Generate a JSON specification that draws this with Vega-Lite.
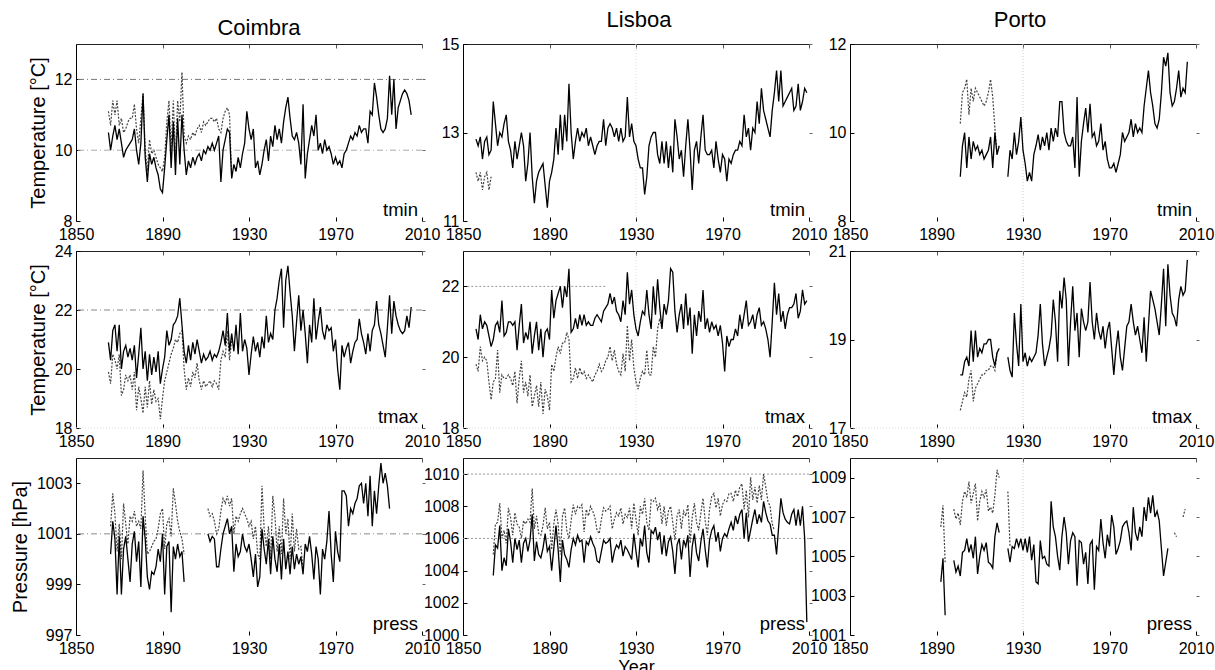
{
"$schema":"https://vega.github.io/schema/vega-lite/v6.json",
"autosize":{"type":"pad"},
"padding":{"left":10,"top":9,"right":5,"bottom":5},
"background":"white",
"datasets":{
"coimbra":[
{"yr":1865,"tmin":10.5,"tminR":11.1,"tmax":20.9,"tmaxR":19.9},
{"yr":1866,"tmin":10.0,"tminR":10.7,"tmax":20.3,"tmaxR":19.5,"pres":1000.2,"presR":1001.3},
{"yr":1867,"tmin":10.4,"tminR":11.4,"tmax":21.3,"tmaxR":20.5,"pres":1001.5,"presR":1002.6},
{"yr":1868,"tmin":10.7,"tminR":11.0,"tmax":21.5,"tmaxR":20.3,"pres":1000.8,"presR":1001.8},
{"yr":1869,"tmin":10.3,"tminR":11.4,"tmax":20.6,"tmaxR":20.0,"pres":998.6,"presR":1000.3},
{"yr":1870,"tmin":10.6,"tminR":10.7,"tmax":21.5,"tmaxR":20.5,"pres":1000.9,"presR":1001.4},
{"yr":1871,"tmin":10.2,"tminR":10.9,"tmax":20.0,"tmaxR":19.1,"pres":998.6,"presR":1000.0},
{"yr":1872,"tmin":9.8,"tminR":10.5,"tmax":20.6,"tmaxR":19.3,"pres":1000.4,"presR":1002.2},
{"yr":1873,"tmin":10.0,"tminR":10.6,"tmax":20.8,"tmaxR":19.8,"pres":1000.9,"presR":1001.4},
{"yr":1874,"tmin":10.1,"tminR":10.8,"tmax":20.4,"tmaxR":19.6,"pres":1000.0,"presR":1000.6},
{"yr":1875,"tmin":10.2,"tminR":10.9,"tmax":20.7,"tmaxR":19.8,"pres":999.1,"presR":1001.7},
{"yr":1876,"tmin":10.3,"tminR":10.9,"tmax":20.3,"tmaxR":19.3,"pres":1000.6,"presR":1001.5},
{"yr":1877,"tmin":10.6,"tminR":11.3,"tmax":20.8,"tmaxR":19.9,"pres":1001.1,"presR":1001.9},
{"yr":1878,"tmin":10.0,"tminR":10.6,"tmax":19.7,"tmaxR":18.6,"pres":999.9,"presR":1001.3},
{"yr":1879,"tmin":9.6,"tminR":10.2,"tmax":20.5,"tmaxR":19.4,"pres":1000.7,"presR":1001.5},
{"yr":1880,"tmin":10.2,"tminR":10.9,"tmax":21.4,"tmaxR":19.0,"pres":998.9,"presR":1001.2},
{"yr":1881,"tmin":11.6,"tminR":11.6,"tmax":20.0,"tmaxR":18.5,"pres":1001.7,"presR":1003.5},
{"yr":1882,"tmin":9.8,"tminR":10.0,"tmax":20.6,"tmaxR":19.4,"pres":1000.8,"presR":1001.7},
{"yr":1883,"tmin":9.1,"tminR":9.4,"tmax":19.6,"tmaxR":18.7,"pres":999.3,"presR":1000.2},
{"yr":1884,"tmin":9.9,"tminR":10.3,"tmax":20.5,"tmaxR":19.6,"pres":998.8,"presR":1000.3},
{"yr":1885,"tmin":9.6,"tminR":9.9,"tmax":19.8,"tmaxR":18.8,"pres":999.5,"presR":1000.5},
{"yr":1886,"tmin":9.8,"tminR":10.0,"tmax":20.4,"tmaxR":19.3,"pres":999.4,"presR":1000.7},
{"yr":1887,"tmin":9.5,"tminR":9.8,"tmax":19.9,"tmaxR":18.9,"pres":999.7,"presR":1000.8},
{"yr":1888,"tmin":9.3,"tminR":9.6,"tmax":20.6,"tmaxR":19.0,"pres":1000.4,"presR":1001.2},
{"yr":1889,"tmin":8.9,"tminR":9.5,"tmax":19.5,"tmaxR":18.3,"pres":999.9,"presR":1001.8},
{"yr":1890,"tmin":8.8,"tminR":9.4,"tmax":20.0,"tmaxR":19.0,"pres":1001.0,"presR":1002.0},
{"yr":1891,"tmin":9.5,"tminR":9.8,"tmax":20.4,"tmaxR":19.6,"pres":998.6,"presR":1000.4},
{"yr":1892,"tmin":10.3,"tminR":10.8,"tmax":21.3,"tmaxR":19.9,"pres":1000.5,"presR":1001.4},
{"yr":1893,"tmin":11.0,"tminR":11.4,"tmax":20.8,"tmaxR":20.2,"pres":1000.7,"presR":1001.6},
{"yr":1894,"tmin":9.5,"tminR":10.0,"tmax":21.0,"tmaxR":20.5,"pres":997.9,"presR":1000.9},
{"yr":1895,"tmin":10.8,"tminR":11.4,"tmax":21.5,"tmaxR":20.7,"pres":1000.5,"presR":1002.8},
{"yr":1896,"tmin":9.3,"tminR":9.8,"tmax":21.6,"tmaxR":21.0,"pres":1000.0,"presR":1002.2},
{"yr":1897,"tmin":10.9,"tminR":11.4,"tmax":21.8,"tmaxR":20.9,"pres":1000.6,"presR":1001.5},
{"yr":1898,"tmin":9.6,"tminR":10.8,"tmax":22.4,"tmaxR":21.2,"pres":1000.1,"presR":1001.1},
{"yr":1899,"tmin":11.0,"tminR":12.2,"tmax":21.5,"tmaxR":21.3,"pres":1000.3,"presR":1000.8},
{"yr":1900,"tmin":10.0,"tminR":10.4,"tmax":20.6,"tmaxR":20.0,"pres":999.1,"presR":1000.2},
{"yr":1901,"tmin":9.3,"tminR":10.2,"tmax":20.2,"tmaxR":19.3},
{"yr":1902,"tmin":9.7,"tminR":10.4,"tmax":20.8,"tmaxR":19.7},
{"yr":1903,"tmin":9.5,"tminR":10.3,"tmax":20.3,"tmaxR":19.4},
{"yr":1904,"tmin":9.8,"tminR":10.5,"tmax":20.9,"tmaxR":19.9},
{"yr":1905,"tmin":9.6,"tminR":10.4,"tmax":20.5,"tmaxR":19.7},
{"yr":1906,"tmin":9.8,"tminR":10.6,"tmax":21.0,"tmaxR":20.2},
{"yr":1907,"tmin":9.9,"tminR":10.7,"tmax":20.6,"tmaxR":19.6},
{"yr":1908,"tmin":9.7,"tminR":10.5,"tmax":20.2,"tmaxR":19.3},
{"yr":1909,"tmin":10.0,"tminR":10.8,"tmax":20.5,"tmaxR":19.6},
{"yr":1910,"tmin":9.9,"tminR":10.7,"tmax":20.3,"tmaxR":19.4},
{"yr":1911,"tmin":10.1,"tminR":10.8,"tmax":20.4,"tmaxR":19.5,"pres":1001.0,"presR":1002.0},
{"yr":1912,"tmin":10.0,"tminR":10.9,"tmax":20.6,"tmaxR":19.6,"pres":1000.7,"presR":1001.7},
{"yr":1913,"tmin":10.2,"tminR":10.9,"tmax":20.3,"tmaxR":19.4,"pres":1000.9,"presR":1001.8},
{"yr":1914,"tmin":10.0,"tminR":10.8,"tmax":20.5,"tmaxR":19.6,"pres":1000.8,"presR":1001.5},
{"yr":1915,"tmin":10.2,"tminR":10.9,"tmax":20.4,"tmaxR":19.5,"pres":999.7,"presR":1001.0},
{"yr":1916,"tmin":10.4,"tminR":10.6,"tmax":20.6,"tmaxR":19.3,"pres":999.7,"presR":1001.2},
{"yr":1917,"tmin":9.1,"tminR":10.5,"tmax":20.9,"tmaxR":20.3,"pres":1000.4,"presR":1001.9},
{"yr":1918,"tmin":10.0,"tminR":10.9,"tmax":21.3,"tmaxR":20.6,"pres":1001.0,"presR":1002.4},
{"yr":1919,"tmin":10.3,"tminR":11.1,"tmax":20.8,"tmaxR":20.4,"pres":1001.3,"presR":1002.2},
{"yr":1920,"tmin":10.6,"tminR":11.2,"tmax":21.9,"tmaxR":21.3,"pres":1001.6,"presR":1002.5},
{"yr":1921,"tmin":10.5,"tminR":11.0,"tmax":20.6,"tmaxR":20.3,"pres":1001.0,"presR":1002.1},
{"yr":1922,"tmin":9.2,"tminR":9.2,"tmax":21.2,"tmaxR":21.0,"pres":1001.3,"presR":1002.4},
{"yr":1923,"tmin":9.6,"tmax":20.6,"pres":999.5,"presR":1001.0},
{"yr":1924,"tmin":9.4,"tmax":21.5,"pres":1000.6,"presR":1001.7},
{"yr":1925,"tmin":9.8,"tmax":20.5,"pres":1000.1,"presR":1001.5},
{"yr":1926,"tmin":9.5,"tmax":21.9,"pres":1000.3,"presR":1001.8},
{"yr":1927,"tmin":9.9,"tmax":20.6,"pres":1001.0,"presR":1002.0},
{"yr":1928,"tmin":10.2,"tmax":21.0,"pres":1000.5,"presR":1001.8},
{"yr":1929,"tmin":11.1,"tmax":20.7,"pres":1000.3,"presR":1001.6},
{"yr":1930,"tmin":10.6,"tmax":19.8,"pres":1000.6,"presR":1001.3},
{"yr":1931,"tmin":10.3,"tmax":20.5,"pres":1000.0,"presR":1001.5},
{"yr":1932,"tmin":10.6,"tmax":21.1,"pres":999.3,"presR":1000.8},
{"yr":1933,"tmin":9.5,"tmax":20.6,"pres":1000.2,"presR":1001.3},
{"yr":1934,"tmin":9.7,"tmax":20.9,"pres":998.9,"presR":1000.2},
{"yr":1935,"tmin":9.3,"tmax":20.4,"pres":999.3,"presR":1000.0},
{"yr":1936,"tmin":9.6,"tmax":21.1,"pres":1001.2,"presR":1002.9},
{"yr":1937,"tmin":10.0,"tmax":20.7,"pres":1000.4,"presR":1001.2},
{"yr":1938,"tmin":10.3,"tmax":21.8,"pres":999.8,"presR":1000.5},
{"yr":1939,"tmin":9.7,"tmax":20.9,"pres":1000.8,"presR":1001.3},
{"yr":1940,"tmin":10.4,"tmax":21.2,"pres":999.4,"presR":1000.0},
{"yr":1941,"tmin":10.1,"tmax":21.0,"pres":1000.9,"presR":1002.5},
{"yr":1942,"tmin":10.7,"tmax":22.0,"pres":1000.0,"presR":1001.7},
{"yr":1943,"tmin":10.3,"tmax":22.4,"pres":999.5,"presR":1000.3},
{"yr":1944,"tmin":10.6,"tmax":23.0,"pres":1000.6,"presR":1001.3},
{"yr":1945,"tmin":10.2,"tmax":23.4,"pres":999.2,"presR":1000.2},
{"yr":1946,"tmin":10.8,"tmax":21.4,"pres":1000.8,"presR":1002.4},
{"yr":1947,"tmin":11.2,"tmax":23.0,"pres":999.6,"presR":1001.0},
{"yr":1948,"tmin":11.5,"tmax":23.5,"pres":1000.3,"presR":1001.6},
{"yr":1949,"tmin":10.9,"tmax":22.6,"pres":999.4,"presR":1000.0},
{"yr":1950,"tmin":10.4,"tmax":21.8,"pres":1000.5,"presR":1001.8},
{"yr":1951,"tmin":10.3,"tmax":20.6,"pres":999.6,"presR":1000.3},
{"yr":1952,"tmin":10.5,"tmax":21.6,"pres":1000.2,"presR":1001.2},
{"yr":1953,"tmin":10.2,"tmax":22.5,"pres":999.8,"presR":1000.4},
{"yr":1954,"tmin":9.6,"tmax":21.3,"pres":1000.1,"presR":1000.5},
{"yr":1955,"tmin":11.3,"tmax":22.0,"pres":999.4,"presR":999.6},
{"yr":1956,"tmin":9.2,"tmax":21.2,"pres":1000.6},
{"yr":1957,"tmin":9.9,"tmax":20.2,"pres":1000.3},
{"yr":1958,"tmin":10.3,"tmax":21.5,"pres":1000.9},
{"yr":1959,"tmin":10.7,"tmax":20.9,"pres":1000.2},
{"yr":1960,"tmin":10.4,"tmax":22.4,"pres":999.2},
{"yr":1961,"tmin":11.0,"tmax":21.0,"pres":1000.5},
{"yr":1962,"tmin":10.0,"tmax":21.6,"pres":1000.0},
{"yr":1963,"tmin":10.2,"tmax":22.1,"pres":998.6},
{"yr":1964,"tmin":9.9,"tmax":21.3,"pres":1000.4},
{"yr":1965,"tmin":10.3,"tmax":21.0,"pres":1000.0},
{"yr":1966,"tmin":10.0,"tmax":21.5,"pres":1000.7},
{"yr":1967,"tmin":10.1,"tmax":21.3,"pres":1001.9},
{"yr":1968,"tmin":9.9,"tmax":21.4,"pres":1000.2},
{"yr":1969,"tmin":9.6,"tmax":20.6,"pres":999.1},
{"yr":1970,"tmin":9.8,"tmax":21.0,"pres":1001.1},
{"yr":1971,"tmin":9.6,"tmax":20.0,"pres":1000.3},
{"yr":1972,"tmin":9.7,"tmax":19.3,"pres":999.9},
{"yr":1973,"tmin":9.5,"tmax":20.8,"pres":1002.7},
{"yr":1974,"tmin":9.9,"tmax":20.4,"pres":1002.7},
{"yr":1975,"tmin":10.0,"tmax":20.7,"pres":1002.5},
{"yr":1976,"tmin":10.2,"tmax":20.9,"pres":1001.3},
{"yr":1977,"tmin":10.4,"tmax":20.2,"pres":1002.0},
{"yr":1978,"tmin":10.3,"tmax":20.6,"pres":1001.8},
{"yr":1979,"tmin":10.5,"tmax":20.9,"pres":1002.2},
{"yr":1980,"tmin":10.4,"tmax":21.0,"pres":1002.4},
{"yr":1981,"tmin":10.7,"tmax":21.7,"pres":1002.9},
{"yr":1982,"tmin":10.5,"tmax":21.2,"pres":1003.0},
{"yr":1983,"tmin":10.6,"tmax":20.9,"pres":1002.2},
{"yr":1984,"tmin":10.6,"tmax":20.5,"pres":1003.0},
{"yr":1985,"tmin":10.2,"tmax":21.2,"pres":1001.7},
{"yr":1986,"tmin":11.1,"tmax":20.6,"pres":1003.3},
{"yr":1987,"tmin":11.0,"tmax":21.3,"pres":1001.3},
{"yr":1988,"tmin":11.9,"tmax":21.5,"pres":1002.7},
{"yr":1989,"tmin":11.5,"tmax":22.3,"pres":1001.8},
{"yr":1990,"tmin":11.0,"tmax":21.5,"pres":1002.9},
{"yr":1991,"tmin":10.6,"tmax":21.2,"pres":1003.8},
{"yr":1992,"tmin":10.5,"tmax":20.8,"pres":1003.0},
{"yr":1993,"tmin":10.6,"tmax":20.4,"pres":1003.4},
{"yr":1994,"tmin":10.9,"tmax":21.4,"pres":1002.9},
{"yr":1995,"tmin":12.1,"tmax":22.5,"pres":1002.0},
{"yr":1996,"tmin":11.0,"tmax":21.2},
{"yr":1997,"tmin":12.0,"tmax":22.3},
{"yr":1998,"tmin":10.6,"tmax":21.8},
{"yr":1999,"tmin":11.2,"tmax":21.5},
{"yr":2000,"tmin":11.4,"tmax":21.3},
{"yr":2001,"tmin":11.6,"tmax":21.2},
{"yr":2002,"tmin":11.7,"tmax":21.3},
{"yr":2003,"tmin":11.6,"tmax":21.8},
{"yr":2004,"tmin":11.4,"tmax":21.4},
{"yr":2005,"tmin":11.0,"tmax":22.1}
],
"lisboa":[
{"yr":1856,"tmin":12.85,"tminR":12.1,"tmax":20.8,"tmaxR":19.8},
{"yr":1857,"tmin":12.7,"tminR":11.9,"tmax":20.5,"tmaxR":19.6},
{"yr":1858,"tmin":12.9,"tminR":12.1,"tmax":21.2,"tmaxR":20.3},
{"yr":1859,"tmin":12.4,"tminR":11.7,"tmax":20.8,"tmaxR":19.9},
{"yr":1860,"tmin":12.8,"tminR":12.0,"tmax":21.0,"tmaxR":20.0},
{"yr":1861,"tmin":12.9,"tminR":12.1,"tmax":20.9,"tmaxR":19.9},
{"yr":1862,"tmin":12.5,"tminR":11.7,"tmax":20.6,"tmaxR":19.3},
{"yr":1863,"tmin":12.6,"tminR":12.0,"tmax":20.3,"tmaxR":18.8},
{"yr":1864,"tmin":13.7,"tmax":20.5,"tmaxR":19.3,"pres":1003.7,"presR":1005.0},
{"yr":1865,"tmin":13.2,"tmax":20.9,"tmaxR":19.4,"pres":1005.6,"presR":1006.9},
{"yr":1866,"tmin":12.7,"tmax":21.0,"tmaxR":20.2,"pres":1005.4,"presR":1007.0},
{"yr":1867,"tmin":13.0,"tmax":20.7,"tmaxR":19.0,"pres":1006.8,"presR":1008.2},
{"yr":1868,"tmin":12.9,"tmax":21.6,"tmaxR":19.5,"pres":1004.0,"presR":1006.0},
{"yr":1869,"tmin":13.2,"tmax":20.6,"tmaxR":19.4,"pres":1004.8,"presR":1006.5},
{"yr":1870,"tmin":13.4,"tmax":20.7,"tmaxR":19.4,"pres":1004.3,"presR":1005.7},
{"yr":1871,"tmin":12.8,"tmax":21.0,"tmaxR":19.5,"pres":1006.6,"presR":1007.9},
{"yr":1872,"tmin":12.6,"tmax":21.0,"tmaxR":19.4,"pres":1005.8,"presR":1007.3},
{"yr":1873,"tmin":12.2,"tmax":20.9,"tmaxR":19.2,"pres":1004.5,"presR":1006.2},
{"yr":1874,"tmin":12.8,"tmax":21.0,"tmaxR":19.6,"pres":1006.0,"presR":1007.6},
{"yr":1875,"tmin":12.4,"tmax":20.2,"tmaxR":18.7,"pres":1005.3,"presR":1006.9},
{"yr":1876,"tmin":12.7,"tmax":20.9,"tmaxR":19.4,"pres":1005.9,"presR":1006.7},
{"yr":1877,"tmin":13.0,"tmax":21.5,"tmaxR":19.9,"pres":1004.5,"presR":1006.0},
{"yr":1878,"tmin":12.7,"tmax":20.4,"tmaxR":19.0,"pres":1005.7,"presR":1007.1},
{"yr":1879,"tmin":11.9,"tmax":20.7,"tmaxR":19.3,"pres":1006.0,"presR":1006.9},
{"yr":1880,"tmin":12.3,"tmax":20.5,"tmaxR":18.9,"pres":1005.2,"presR":1007.2},
{"yr":1881,"tmin":13.0,"tmax":21.0,"tmaxR":19.5,"pres":1005.9,"presR":1007.0},
{"yr":1882,"tmin":12.0,"tmax":20.1,"tmaxR":18.6,"pres":1007.5,"presR":1009.1},
{"yr":1883,"tmin":11.4,"tmax":20.6,"tmaxR":18.9,"pres":1004.6,"presR":1006.6},
{"yr":1884,"tmin":11.9,"tmax":21.0,"tmaxR":19.2,"pres":1005.8,"presR":1007.4},
{"yr":1885,"tmin":12.1,"tmax":20.2,"tmaxR":18.6,"pres":1005.0,"presR":1006.3},
{"yr":1886,"tmin":12.2,"tmax":20.8,"tmaxR":19.3,"pres":1004.8,"presR":1006.2},
{"yr":1887,"tmin":12.3,"tmax":20.0,"tmaxR":18.4,"pres":1005.4,"presR":1006.8},
{"yr":1888,"tmin":11.8,"tmax":20.7,"tmaxR":19.1,"pres":1006.3,"presR":1007.9},
{"yr":1889,"tmin":11.3,"tmax":20.8,"tmaxR":18.9,"pres":1005.2,"presR":1006.6},
{"yr":1890,"tmin":11.9,"tmax":20.5,"tmaxR":18.5,"pres":1005.5,"presR":1007.0},
{"yr":1891,"tmin":12.1,"tmax":21.9,"tmaxR":19.8,"pres":1004.0,"presR":1005.3},
{"yr":1892,"tmin":12.4,"tmax":21.1,"tmaxR":19.6,"pres":1005.4,"presR":1006.9},
{"yr":1893,"tmin":13.1,"tmax":21.6,"tmaxR":20.0,"pres":1006.8,"presR":1007.8},
{"yr":1894,"tmin":12.5,"tmax":21.8,"tmaxR":20.3,"pres":1005.3,"presR":1006.9},
{"yr":1895,"tmin":13.4,"tmax":22.0,"tmaxR":20.1,"pres":1003.3,"presR":1005.0},
{"yr":1896,"tmin":12.6,"tmax":21.4,"tmaxR":20.4,"pres":1005.9,"presR":1007.4},
{"yr":1897,"tmin":13.4,"tmax":22.0,"tmaxR":20.4,"pres":1005.0,"presR":1007.9},
{"yr":1898,"tmin":12.8,"tmax":21.7,"tmaxR":20.7,"pres":1004.7,"presR":1006.5},
{"yr":1899,"tmin":14.1,"tmax":22.5,"tmaxR":20.5,"pres":1004.2,"presR":1006.0},
{"yr":1900,"tmin":13.0,"tmax":20.7,"tmaxR":19.3,"pres":1005.3,"presR":1007.1},
{"yr":1901,"tmin":12.4,"tmax":20.8,"tmaxR":19.4,"pres":1006.0,"presR":1008.1},
{"yr":1902,"tmin":12.8,"tmax":21.1,"tmaxR":19.7,"pres":1005.6,"presR":1007.5},
{"yr":1903,"tmin":13.1,"tmax":20.8,"tmaxR":19.4,"pres":1006.2,"presR":1008.0},
{"yr":1904,"tmin":12.8,"tmax":21.2,"tmaxR":19.7,"pres":1005.8,"presR":1007.9},
{"yr":1905,"tmin":13.0,"tmax":20.9,"tmaxR":19.5,"pres":1005.9,"presR":1008.1},
{"yr":1906,"tmin":12.9,"tmax":21.2,"tmaxR":19.6,"pres":1004.5,"presR":1006.4},
{"yr":1907,"tmin":13.1,"tmax":20.9,"tmaxR":19.4,"pres":1005.8,"presR":1007.8},
{"yr":1908,"tmin":12.7,"tmax":21.0,"tmaxR":19.5,"pres":1005.6,"presR":1007.4},
{"yr":1909,"tmin":12.9,"tmax":20.9,"tmaxR":19.4,"pres":1006.1,"presR":1008.0},
{"yr":1910,"tmin":12.7,"tmax":20.9,"tmaxR":19.3,"pres":1005.7,"presR":1007.7},
{"yr":1911,"tmin":12.5,"tmax":21.1,"tmaxR":19.5,"pres":1005.4,"presR":1007.3},
{"yr":1912,"tmin":12.7,"tmax":21.2,"tmaxR":19.6,"pres":1004.6,"presR":1006.5},
{"yr":1913,"tmin":12.8,"tmax":21.1,"tmaxR":19.8,"pres":1004.5,"presR":1006.3},
{"yr":1914,"tmin":12.8,"tmax":21.0,"tmaxR":19.6,"pres":1005.2,"presR":1007.2},
{"yr":1915,"tmin":13.3,"tmax":21.3,"tmaxR":19.7,"pres":1005.9,"presR":1007.9},
{"yr":1916,"tmin":12.7,"tmax":21.4,"tmaxR":19.9,"pres":1005.7,"presR":1007.7},
{"yr":1917,"tmin":13.1,"tmax":21.5,"tmaxR":20.0,"pres":1005.8,"presR":1007.8},
{"yr":1918,"tmin":13.2,"tmax":21.8,"tmaxR":20.3,"pres":1006.0,"presR":1008.0},
{"yr":1919,"tmin":13.1,"tmax":21.5,"tmaxR":19.9,"pres":1004.5,"presR":1006.6},
{"yr":1920,"tmin":12.9,"tmax":21.7,"tmaxR":20.2,"pres":1005.2,"presR":1007.2},
{"yr":1921,"tmin":13.1,"tmax":21.3,"tmaxR":19.8,"pres":1005.6,"presR":1007.6},
{"yr":1922,"tmin":12.8,"tmax":21.2,"tmaxR":19.6,"pres":1005.4,"presR":1007.4},
{"yr":1923,"tmin":13.1,"tmax":21.0,"tmaxR":19.5,"pres":1005.9,"presR":1007.9},
{"yr":1924,"tmin":12.8,"tmax":21.6,"tmaxR":20.1,"pres":1004.9,"presR":1006.9},
{"yr":1925,"tmin":12.9,"tmax":21.2,"tmaxR":19.6,"pres":1005.5,"presR":1007.5},
{"yr":1926,"tmin":13.8,"tmax":22.4,"tmaxR":20.9,"pres":1005.3,"presR":1007.3},
{"yr":1927,"tmin":12.9,"tmax":21.5,"tmaxR":19.9,"pres":1005.0,"presR":1007.9},
{"yr":1928,"tmin":13.2,"tmax":21.9,"tmaxR":20.5,"pres":1004.7,"presR":1006.6},
{"yr":1929,"tmin":12.8,"tmax":21.2,"tmaxR":19.7,"pres":1006.3,"presR":1008.2},
{"yr":1930,"tmin":12.7,"tmax":20.8,"tmaxR":19.3,"pres":1005.2,"presR":1007.2},
{"yr":1931,"tmin":12.4,"tmax":20.6,"tmaxR":19.1,"pres":1004.2,"presR":1006.2},
{"yr":1932,"tmin":12.2,"tmax":21.0,"tmaxR":19.4,"pres":1006.0,"presR":1008.0},
{"yr":1933,"tmin":12.2,"tmax":21.3,"tmaxR":19.6,"pres":1005.5,"presR":1007.5},
{"yr":1934,"tmin":11.6,"tmax":21.2,"tmaxR":19.5,"pres":1006.8,"presR":1008.5},
{"yr":1935,"tmin":12.0,"tmax":21.9,"tmaxR":20.2,"pres":1005.1,"presR":1007.0},
{"yr":1936,"tmin":12.7,"tmax":21.2,"tmaxR":19.5,"pres":1004.5,"presR":1006.5},
{"yr":1937,"tmin":12.9,"tmax":20.8,"tmaxR":19.5,"pres":1006.5,"presR":1008.4},
{"yr":1938,"tmin":13.0,"tmax":22.0,"tmaxR":20.3,"pres":1006.3,"presR":1008.3},
{"yr":1939,"tmin":13.0,"tmax":21.2,"tmaxR":20.0,"pres":1006.7,"presR":1008.5},
{"yr":1940,"tmin":12.5,"tmax":22.2,"tmaxR":20.8,"pres":1005.9,"presR":1007.8},
{"yr":1941,"tmin":12.3,"tmax":21.4,"tmaxR":21.1,"pres":1006.4,"presR":1008.2},
{"yr":1942,"tmin":12.8,"tmax":20.8,"tmaxR":20.8,"pres":1005.0,"presR":1006.9},
{"yr":1943,"tmin":12.3,"tmax":21.5,"pres":1006.2,"presR":1008.0},
{"yr":1944,"tmin":12.8,"tmax":21.2,"pres":1004.9,"presR":1006.8},
{"yr":1945,"tmin":12.2,"tmax":21.6,"pres":1005.8,"presR":1007.7},
{"yr":1946,"tmin":12.7,"tmax":22.5,"pres":1006.1,"presR":1008.0},
{"yr":1947,"tmin":12.1,"tmax":22.4,"pres":1005.2,"presR":1007.0},
{"yr":1948,"tmin":13.3,"tmax":21.3,"pres":1003.8,"presR":1005.9},
{"yr":1949,"tmin":12.9,"tmax":20.7,"pres":1005.6,"presR":1007.4},
{"yr":1950,"tmin":12.4,"tmax":21.2,"pres":1006.0,"presR":1007.8},
{"yr":1951,"tmin":12.6,"tmax":21.5,"pres":1004.7,"presR":1006.6},
{"yr":1952,"tmin":12.0,"tmax":20.8,"pres":1005.9,"presR":1007.7},
{"yr":1953,"tmin":12.7,"tmax":21.8,"pres":1005.5,"presR":1007.4},
{"yr":1954,"tmin":13.3,"tmax":20.9,"pres":1006.2,"presR":1008.1},
{"yr":1955,"tmin":12.6,"tmax":21.4,"pres":1003.6,"presR":1005.7},
{"yr":1956,"tmin":11.7,"tmax":20.1,"pres":1005.5,"presR":1007.3},
{"yr":1957,"tmin":12.6,"tmax":21.2,"pres":1006.3,"presR":1008.2},
{"yr":1958,"tmin":12.8,"tmax":20.6,"pres":1005.1,"presR":1007.0},
{"yr":1959,"tmin":12.3,"tmax":21.3,"pres":1004.6,"presR":1006.5},
{"yr":1960,"tmin":12.9,"tmax":21.0,"pres":1005.8,"presR":1007.6},
{"yr":1961,"tmin":13.4,"tmax":21.9,"pres":1006.6,"presR":1008.5},
{"yr":1962,"tmin":12.6,"tmax":20.8,"pres":1005.3,"presR":1007.1},
{"yr":1963,"tmin":12.5,"tmax":21.1,"pres":1004.2,"presR":1006.2},
{"yr":1964,"tmin":12.5,"tmax":20.7,"pres":1005.9,"presR":1007.8},
{"yr":1965,"tmin":12.6,"tmax":21.0,"pres":1006.5,"presR":1008.6},
{"yr":1966,"tmin":12.2,"tmax":20.8,"pres":1006.8,"presR":1008.8},
{"yr":1967,"tmin":12.8,"tmax":20.9,"pres":1005.8,"presR":1007.9},
{"yr":1968,"tmin":12.4,"tmax":20.6,"pres":1006.4,"presR":1008.5},
{"yr":1969,"tmin":12.1,"tmax":20.9,"pres":1005.2,"presR":1007.4},
{"yr":1970,"tmin":12.5,"tmax":20.4,"pres":1006.0,"presR":1008.1},
{"yr":1971,"tmin":12.4,"tmax":19.6,"pres":1006.3,"presR":1008.4},
{"yr":1972,"tmin":11.9,"tmax":20.6,"pres":1006.1,"presR":1008.3},
{"yr":1973,"tmin":12.4,"tmax":20.3,"pres":1006.6,"presR":1008.8},
{"yr":1974,"tmin":12.3,"tmax":20.5,"pres":1007.0,"presR":1008.8},
{"yr":1975,"tmin":12.5,"tmax":20.5,"pres":1006.5,"presR":1008.3},
{"yr":1976,"tmin":12.6,"tmax":20.8,"pres":1007.4,"presR":1009.0},
{"yr":1977,"tmin":12.6,"tmax":20.6,"pres":1006.9,"presR":1008.6},
{"yr":1978,"tmin":12.8,"tmax":21.2,"pres":1007.5,"presR":1009.2},
{"yr":1979,"tmin":12.7,"tmax":20.8,"pres":1007.8,"presR":1009.4},
{"yr":1980,"tmin":13.4,"tmax":21.2,"pres":1006.0,"presR":1007.8},
{"yr":1981,"tmin":12.9,"tmax":21.6,"pres":1007.6,"presR":1009.0},
{"yr":1982,"tmin":13.1,"tmax":20.9,"pres":1005.8,"presR":1007.3},
{"yr":1983,"tmin":12.6,"tmax":21.0,"pres":1006.5,"presR":1009.8},
{"yr":1984,"tmin":13.1,"tmax":21.2,"pres":1007.2,"presR":1008.4},
{"yr":1985,"tmin":13.0,"tmax":20.8,"pres":1007.8,"presR":1009.2},
{"yr":1986,"tmin":13.7,"tmax":21.2,"pres":1006.9,"presR":1008.2},
{"yr":1987,"tmin":13.2,"tmax":21.4,"pres":1007.5,"presR":1009.3},
{"yr":1988,"tmin":14.0,"tmax":20.9,"pres":1007.0,"presR":1008.4},
{"yr":1989,"tmin":13.5,"tmax":21.0,"pres":1008.3,"presR":1010.0},
{"yr":1990,"tmin":13.3,"tmax":20.8,"pres":1007.6,"presR":1009.2},
{"yr":1991,"tmin":13.1,"tmax":20.5,"pres":1007.1,"presR":1008.3},
{"yr":1992,"tmin":12.9,"tmax":20.0,"pres":1006.9,"presR":1008.0},
{"yr":1993,"tmin":13.5,"tmax":21.0,"pres":1006.2,"presR":1006.9},
{"yr":1994,"tmin":13.9,"tmax":22.1,"pres":1006.2,"presR":1006.5},
{"yr":1995,"tmin":14.4,"tmax":21.2,"pres":1005.0},
{"yr":1996,"tmin":13.7,"tmax":21.8,"pres":1006.8},
{"yr":1997,"tmin":14.4,"tmax":21.0,"pres":1008.5},
{"yr":1998,"tmin":13.6,"tmax":21.3,"pres":1007.6},
{"yr":1999,"tmin":13.7,"tmax":20.8,"pres":1007.2},
{"yr":2000,"tmin":13.8,"tmax":21.2,"pres":1007.0},
{"yr":2001,"tmin":13.9,"tmax":21.4,"pres":1006.9},
{"yr":2002,"tmin":14.0,"tmax":21.4,"pres":1007.5},
{"yr":2003,"tmin":13.5,"tmax":21.5,"pres":1007.8},
{"yr":2004,"tmin":13.6,"tmax":21.8,"pres":1006.8},
{"yr":2005,"tmin":14.1,"tmax":21.1,"pres":1007.8},
{"yr":2006,"tmin":13.5,"tmax":21.3,"pres":1006.8},
{"yr":2007,"tmin":13.7,"tmax":21.9,"pres":1008.0},
{"yr":2008,"tmin":14.0,"tmax":21.5,"pres":1006.0},
{"yr":2009,"tmin":13.9,"tmax":21.6,"pres":1000.8}
],
"porto":[
{"yr":1892,"pres":1003.7,"presR":1006.5},
{"yr":1893,"pres":1004.9,"presR":1007.6},
{"yr":1894,"pres":1002.0,"presR":1004.7},
{"yr":1895},
{"yr":1896},
{"yr":1897},
{"yr":1898,"pres":1004.8,"presR":1007.4},
{"yr":1899,"pres":1004.2,"presR":1006.9},
{"yr":1900,"pres":1004.5,"presR":1007.2},
{"yr":1901,"tmin":9.0,"tminR":10.2,"tmax":18.2,"tmaxR":17.4,"pres":1004.0,"presR":1006.6},
{"yr":1902,"tmin":9.7,"tminR":10.9,"tmax":18.2,"tmaxR":17.6,"pres":1005.2,"presR":1007.8},
{"yr":1903,"tmin":10.0,"tminR":11.0,"tmax":18.5,"tmaxR":17.8,"pres":1005.3,"presR":1008.3},
{"yr":1904,"tmin":9.2,"tminR":11.2,"tmax":18.6,"tmaxR":17.7,"pres":1005.9,"presR":1008.0},
{"yr":1905,"tmin":9.9,"tminR":10.4,"tmax":18.4,"tmaxR":18.1,"pres":1005.2,"presR":1008.8},
{"yr":1906,"tmin":9.4,"tminR":11.0,"tmax":19.2,"tmaxR":18.3,"pres":1005.6,"presR":1007.7},
{"yr":1907,"tmin":9.8,"tminR":10.7,"tmax":18.5,"tmaxR":17.6,"pres":1004.9,"presR":1008.2},
{"yr":1908,"tmin":9.6,"tminR":11.0,"tmax":19.2,"tmaxR":17.9,"pres":1006.0,"presR":1008.7},
{"yr":1909,"tmin":9.7,"tminR":10.9,"tmax":18.6,"tmaxR":18.0,"pres":1004.1,"presR":1006.8},
{"yr":1910,"tmin":9.5,"tminR":10.8,"tmax":18.8,"tmaxR":18.1,"pres":1005.0,"presR":1007.8},
{"yr":1911,"tmin":9.6,"tminR":10.7,"tmax":18.7,"tmaxR":18.2,"pres":1005.6,"presR":1008.3},
{"yr":1912,"tmin":9.4,"tminR":10.6,"tmax":18.9,"tmaxR":18.2,"pres":1005.3,"presR":1008.0},
{"yr":1913,"tmin":9.5,"tminR":10.7,"tmax":18.9,"tmaxR":18.3,"pres":1005.7,"presR":1008.4},
{"yr":1914,"tmin":9.6,"tminR":10.9,"tmax":19.0,"tmaxR":18.3,"pres":1004.7,"presR":1007.3},
{"yr":1915,"tmin":9.9,"tminR":11.2,"tmax":19.0,"tmaxR":18.4,"pres":1004.6,"presR":1007.5},
{"yr":1916,"tmin":9.2,"tminR":10.8,"tmax":18.6,"tmaxR":18.4,"pres":1004.4,"presR":1007.2},
{"yr":1917,"tmin":10.0,"tminR":10.1,"tmax":18.4,"tmaxR":18.3,"pres":1006.0,"presR":1008.1},
{"yr":1918,"tmin":9.5,"tminR":9.5,"tmax":18.7,"tmaxR":18.7,"pres":1006.7,"presR":1009.4},
{"yr":1919,"tmin":9.7,"tmax":18.8,"pres":1006.2,"presR":1009.0},
{"yr":1920},
{"yr":1921},
{"yr":1922},
{"yr":1923,"tmin":9.0,"tmax":18.6,"pres":1005.4,"presR":1008.3},
{"yr":1924,"tmin":9.6,"tmax":18.3,"pres":1004.7,"presR":1005.5},
{"yr":1925,"tmin":9.4,"tmax":18.15,"pres":1005.5},
{"yr":1926,"tmin":10.0,"tmax":19.6,"pres":1005.4},
{"yr":1927,"tmin":9.5,"tmax":18.9,"pres":1005.9},
{"yr":1928,"tmin":9.8,"tmax":18.4,"pres":1005.5},
{"yr":1929,"tmin":10.35,"tmax":19.8,"pres":1005.9},
{"yr":1930,"tmin":9.6,"tmax":18.5,"pres":1005.3},
{"yr":1931,"tmin":9.3,"tmax":18.7,"pres":1005.9},
{"yr":1932,"tmin":8.9,"tmax":18.4,"pres":1005.2},
{"yr":1933,"tmin":9.1,"tmax":18.6,"pres":1006.0},
{"yr":1934,"tmin":8.9,"tmax":18.5,"pres":1004.8},
{"yr":1935,"tmin":9.5,"tmax":18.6,"pres":1005.6},
{"yr":1936,"tmin":9.7,"tmax":18.7,"pres":1003.7},
{"yr":1937,"tmin":9.95,"tmax":19.1,"pres":1003.6},
{"yr":1938,"tmin":9.6,"tmax":19.8,"pres":1005.8},
{"yr":1939,"tmin":9.9,"tmax":18.9,"pres":1004.9},
{"yr":1940,"tmin":9.7,"tmax":18.4,"pres":1005.0},
{"yr":1941,"tmin":10.0,"tmax":18.6,"pres":1004.6},
{"yr":1942,"tmin":9.6,"tmax":18.8,"pres":1004.5},
{"yr":1943,"tmin":10.1,"tmax":19.1,"pres":1007.8},
{"yr":1944,"tmin":9.8,"tmax":19.9,"pres":1006.5},
{"yr":1945,"tmin":10.1,"tmax":19.4,"pres":1006.0},
{"yr":1946,"tmin":9.9,"tmax":18.5,"pres":1005.0},
{"yr":1947,"tmin":10.7,"tmax":20.1,"pres":1004.3},
{"yr":1948,"tmin":10.7,"tmax":19.7,"pres":1006.0},
{"yr":1949,"tmin":10.0,"tmax":20.4,"pres":1007.0},
{"yr":1950,"tmin":9.8,"tmax":19.9,"pres":1006.2},
{"yr":1951,"tmin":9.7,"tmax":18.4,"pres":1004.6},
{"yr":1952,"tmin":9.7,"tmax":19.4,"pres":1005.8},
{"yr":1953,"tmin":9.9,"tmax":20.2,"pres":1006.2},
{"yr":1954,"tmin":9.2,"tmax":19.2,"pres":1006.0},
{"yr":1955,"tmin":10.8,"tmax":19.6,"pres":1003.5},
{"yr":1956,"tmin":9.0,"tmax":18.6,"pres":1005.8},
{"yr":1957,"tmin":9.8,"tmax":19.7,"pres":1005.7},
{"yr":1958,"tmin":10.2,"tmax":19.4,"pres":1004.6},
{"yr":1959,"tmin":10.55,"tmax":19.2,"pres":1005.2},
{"yr":1960,"tmin":10.0,"tmax":19.4,"pres":1003.6},
{"yr":1961,"tmin":10.65,"tmax":20.3,"pres":1005.6},
{"yr":1962,"tmin":9.9,"tmax":19.4,"pres":1005.8},
{"yr":1963,"tmin":10.0,"tmax":19.0,"pres":1003.3},
{"yr":1964,"tmin":9.7,"tmax":19.6,"pres":1005.5},
{"yr":1965,"tmin":9.8,"tmax":19.2,"pres":1005.3},
{"yr":1966,"tmin":10.2,"tmax":19.0,"pres":1006.9},
{"yr":1967,"tmin":9.6,"tmax":19.3,"pres":1005.7},
{"yr":1968,"tmin":9.8,"tmax":18.8,"pres":1004.9},
{"yr":1969,"tmin":9.4,"tmax":19.2,"pres":1006.1},
{"yr":1970,"tmin":9.2,"tmax":19.4,"pres":1005.5},
{"yr":1971,"tmin":9.2,"tmax":18.8,"pres":1007.1},
{"yr":1972,"tmin":9.3,"tmax":18.2,"pres":1006.5},
{"yr":1973,"tmin":9.1,"tmax":18.8,"pres":1005.1},
{"yr":1974,"tmin":9.3,"tmax":19.2,"pres":1005.4},
{"yr":1975,"tmin":9.5,"tmax":18.6,"pres":1005.8},
{"yr":1976,"tmin":10.0,"tmax":18.3,"pres":1006.5},
{"yr":1977,"tmin":9.8,"tmax":18.8,"pres":1006.7},
{"yr":1978,"tmin":9.9,"tmax":19.3,"pres":1006.8},
{"yr":1979,"tmin":10.0,"tmax":19.4,"pres":1006.2},
{"yr":1980,"tmin":10.3,"tmax":19.8,"pres":1005.3},
{"yr":1981,"tmin":9.9,"tmax":19.4,"pres":1007.5},
{"yr":1982,"tmin":10.2,"tmax":19.1,"pres":1006.2},
{"yr":1983,"tmin":10.0,"tmax":19.3,"pres":1005.8},
{"yr":1984,"tmin":10.1,"tmax":19.0,"pres":1006.5},
{"yr":1985,"tmin":10.0,"tmax":18.7,"pres":1006.0},
{"yr":1986,"tmin":10.6,"tmax":19.5,"pres":1007.5},
{"yr":1987,"tmin":11.0,"tmax":18.5,"pres":1006.8},
{"yr":1988,"tmin":11.4,"tmax":19.3,"pres":1008.0},
{"yr":1989,"tmin":10.9,"tmax":20.1,"pres":1007.2},
{"yr":1990,"tmin":10.6,"tmax":19.9,"pres":1008.1},
{"yr":1991,"tmin":10.2,"tmax":19.7,"pres":1007.0},
{"yr":1992,"tmin":10.1,"tmax":19.4,"pres":1007.3},
{"yr":1993,"tmin":10.3,"tmax":19.1,"pres":1006.8},
{"yr":1994,"tmin":10.9,"tmax":19.8,"pres":1005.4},
{"yr":1995,"tmin":11.7,"tmax":20.6,"pres":1004.0},
{"yr":1996,"tmin":11.5,"tmax":19.3,"pres":1004.7},
{"yr":1997,"tmin":11.8,"tmax":20.7,"pres":1005.4},
{"yr":1998,"tmin":10.9,"tmax":20.0},
{"yr":1999,"tmin":10.6,"tmax":19.6},
{"yr":2000,"tmin":10.7,"tmax":19.5,"presR":1006.2},
{"yr":2001,"tmin":11.0,"tmax":19.3,"presR":1006.0},
{"yr":2002,"tmin":11.4,"tmax":19.9},
{"yr":2003,"tmin":10.8,"tmax":20.2},
{"yr":2004,"tmin":11.0,"tmax":20.0,"presR":1007.0},
{"yr":2005,"tmin":10.9,"tmax":20.1,"presR":1007.4},
{"yr":2006,"tmin":11.6,"tmax":20.8}
]
},
"columns":3,
"spacing":{"row":30,"column":41},
"bounds":"flush",
"concat":[
{"width":346,"height":177,"data":{"name":"coimbra"},
 "title":{"text":"Coimbra","frame":"group","dx":10,"offset":4},
 "layer":[
  {"data":{"values":[{}]},"mark":{"type":"rule","color":"#777","strokeWidth":1,"strokeDash":[6,3,1,3]},"encoding":{"y":{"datum":12,"type":"quantitative","scale":{"domain":[8,13],"nice":false,"zero":false},"axis":null}}},
  {"data":{"values":[{}]},"mark":{"type":"rule","color":"#aaa","strokeWidth":1,"strokeDash":[6,3,1,3]},"encoding":{"y":{"datum":10,"type":"quantitative","scale":{"domain":[8,13],"nice":false,"zero":false},"axis":null}}},
  {"mark":{"type":"line","color":"#444","strokeWidth":1.2,"strokeDash":[2,1.5],"invalid":"break-paths-show-domains","clip":true},
   "encoding":{"x":{"field":"yr","type":"quantitative","scale":{"domain":[1850,2010],"nice":false,"zero":false},"axis":{"orient":"bottom","values":[1850,1890,1930,1970,2010],"format":"d","domain":false,"tickSize":-4,"labelPadding":9,"title":null}},
   "y":{"field":"tminR","type":"quantitative","scale":{"domain":[8,13],"nice":false,"zero":false},"axis":{"orient":"left","values":[8,10,12],"format":"d","tickSize":-4,"labelPadding":8,"title":"Temperature [°C]","titlePadding":6}}}},
  {"mark":{"type":"line","color":"black","strokeWidth":1.3,"invalid":"break-paths-show-domains","clip":true},
   "encoding":{"x":{"field":"yr","type":"quantitative","scale":{"domain":[1850,2010],"nice":false,"zero":false},"axis":{"orient":"top","values":[1850,1890,1930,1970,2010],"labels":false,"tickSize":-4,"tickColor":"#555","domainColor":"#222","title":null}},
   "y":{"field":"tmin","type":"quantitative","scale":{"domain":[8,13],"nice":false,"zero":false},"axis":{"orient":"right","values":[8,10,12],"labels":false,"domain":false,"tickSize":3,"tickColor":"#666","title":null}}}},
  {"data":{"values":[{}]},"mark":{"type":"text","text":"tmin","align":"right","baseline":"alphabetic","dx":-4,"dy":-5,"fontSize":18.5},"encoding":{"x":{"datum":2010,"type":"quantitative","scale":{"domain":[1850,2010],"nice":false,"zero":false},"axis":null},"y":{"datum":8,"type":"quantitative","scale":{"domain":[8,13],"nice":false,"zero":false},"axis":null}}}
 ],
 "resolve":{"axis":{"x":"independent","y":"independent"}}},
{"width":346,"height":177,"data":{"name":"lisboa"},
 "title":{"text":"Lisboa","frame":"group","dx":3,"offset":4},
 "layer":[
  {"data":{"values":[{}]},"mark":{"type":"rule","color":"#ddd","strokeWidth":1,"strokeDash":[1,2]},"encoding":{"x":{"datum":1930,"type":"quantitative","scale":{"domain":[1850,2010],"nice":false,"zero":false},"axis":null}}},
  {"mark":{"type":"line","color":"#444","strokeWidth":1.2,"strokeDash":[2,1.5],"invalid":"break-paths-show-domains","clip":true},
   "encoding":{"x":{"field":"yr","type":"quantitative","scale":{"domain":[1850,2010],"nice":false,"zero":false},"axis":{"orient":"bottom","values":[1850,1890,1930,1970,2010],"format":"d","domain":false,"tickSize":-4,"labelPadding":9,"title":null}},
   "y":{"field":"tminR","type":"quantitative","scale":{"domain":[11,15],"nice":false,"zero":false},"axis":{"orient":"left","values":[11,13,15],"format":"d","tickSize":-4,"labelPadding":8,"title":null}}}},
  {"mark":{"type":"line","color":"black","strokeWidth":1.3,"invalid":"break-paths-show-domains","clip":true},
   "encoding":{"x":{"field":"yr","type":"quantitative","scale":{"domain":[1850,2010],"nice":false,"zero":false},"axis":{"orient":"top","values":[1850,1890,1930,1970,2010],"labels":false,"tickSize":-4,"tickColor":"#555","domainColor":"#222","title":null}},
   "y":{"field":"tmin","type":"quantitative","scale":{"domain":[11,15],"nice":false,"zero":false},"axis":{"orient":"right","values":[11,13,15],"labels":false,"domain":false,"tickSize":3,"tickColor":"#666","title":null}}}},
  {"data":{"values":[{}]},"mark":{"type":"text","text":"tmin","align":"right","baseline":"alphabetic","dx":-4,"dy":-5,"fontSize":18.5},"encoding":{"x":{"datum":2010,"type":"quantitative","scale":{"domain":[1850,2010],"nice":false,"zero":false},"axis":null},"y":{"datum":11,"type":"quantitative","scale":{"domain":[11,15],"nice":false,"zero":false},"axis":null}}}
 ],
 "resolve":{"axis":{"x":"independent","y":"independent"}}},
{"width":346,"height":177,"data":{"name":"porto"},
 "title":{"text":"Porto","frame":"group","dx":-3,"offset":4},
 "layer":[
  {"data":{"values":[{}]},"mark":{"type":"rule","color":"#ccc","strokeWidth":1,"strokeDash":[1,2]},"encoding":{"x":{"datum":1930,"type":"quantitative","scale":{"domain":[1850,2010],"nice":false,"zero":false},"axis":null}}},
  {"mark":{"type":"line","color":"#444","strokeWidth":1.2,"strokeDash":[2,1.5],"invalid":"break-paths-show-domains","clip":true},
   "encoding":{"x":{"field":"yr","type":"quantitative","scale":{"domain":[1850,2010],"nice":false,"zero":false},"axis":{"orient":"bottom","values":[1850,1890,1930,1970,2010],"format":"d","domain":false,"tickSize":-4,"labelPadding":9,"title":null}},
   "y":{"field":"tminR","type":"quantitative","scale":{"domain":[8,12],"nice":false,"zero":false},"axis":{"orient":"left","values":[8,10,12],"format":"d","tickSize":-4,"labelPadding":8,"title":null}}}},
  {"mark":{"type":"line","color":"black","strokeWidth":1.3,"invalid":"break-paths-show-domains","clip":true},
   "encoding":{"x":{"field":"yr","type":"quantitative","scale":{"domain":[1850,2010],"nice":false,"zero":false},"axis":{"orient":"top","values":[1850,1890,1930,1970,2010],"labels":false,"tickSize":-4,"tickColor":"#555","domainColor":"#222","title":null}},
   "y":{"field":"tmin","type":"quantitative","scale":{"domain":[8,12],"nice":false,"zero":false},"axis":{"orient":"right","values":[8,10,12],"labels":false,"domain":false,"tickSize":3,"tickColor":"#666","title":null}}}},
  {"data":{"values":[{}]},"mark":{"type":"text","text":"tmin","align":"right","baseline":"alphabetic","dx":-4,"dy":-5,"fontSize":18.5},"encoding":{"x":{"datum":2010,"type":"quantitative","scale":{"domain":[1850,2010],"nice":false,"zero":false},"axis":null},"y":{"datum":8,"type":"quantitative","scale":{"domain":[8,12],"nice":false,"zero":false},"axis":null}}}
 ],
 "resolve":{"axis":{"x":"independent","y":"independent"}}},
{"width":346,"height":177,"data":{"name":"coimbra"},
 "layer":[
  {"data":{"values":[{}]},"mark":{"type":"rule","color":"#888","strokeWidth":1,"strokeDash":[6,3,1,3]},"encoding":{"y":{"datum":22,"type":"quantitative","scale":{"domain":[18,24],"nice":false,"zero":false},"axis":null}}},
  {"data":{"values":[{}]},"mark":{"type":"rule","color":"#ddd","strokeWidth":1,"strokeDash":[1,2]},"encoding":{"y":{"datum":18,"type":"quantitative","scale":{"domain":[18,24],"nice":false,"zero":false},"axis":null}}},
  {"mark":{"type":"line","color":"#444","strokeWidth":1.2,"strokeDash":[2,1.5],"invalid":"break-paths-show-domains","clip":true},
   "encoding":{"x":{"field":"yr","type":"quantitative","scale":{"domain":[1850,2010],"nice":false,"zero":false},"axis":{"orient":"bottom","values":[1850,1890,1930,1970,2010],"format":"d","domain":false,"tickSize":-4,"labelPadding":9,"title":null}},
   "y":{"field":"tmaxR","type":"quantitative","scale":{"domain":[18,24],"nice":false,"zero":false},"axis":{"orient":"left","values":[18,20,22,24],"format":"d","tickSize":-4,"labelPadding":8,"title":"Temperature [°C]","titlePadding":6}}}},
  {"mark":{"type":"line","color":"black","strokeWidth":1.3,"invalid":"break-paths-show-domains","clip":true},
   "encoding":{"x":{"field":"yr","type":"quantitative","scale":{"domain":[1850,2010],"nice":false,"zero":false},"axis":{"orient":"top","values":[1850,1890,1930,1970,2010],"labels":false,"tickSize":-4,"tickColor":"#555","domainColor":"#222","title":null}},
   "y":{"field":"tmax","type":"quantitative","scale":{"domain":[18,24],"nice":false,"zero":false},"axis":{"orient":"right","values":[18,20,22,24],"labels":false,"domain":false,"tickSize":3,"tickColor":"#666","title":null}}}},
  {"data":{"values":[{}]},"mark":{"type":"text","text":"tmax","align":"right","baseline":"alphabetic","dx":-4,"dy":-5,"fontSize":18.5},"encoding":{"x":{"datum":2010,"type":"quantitative","scale":{"domain":[1850,2010],"nice":false,"zero":false},"axis":null},"y":{"datum":18,"type":"quantitative","scale":{"domain":[18,24],"nice":false,"zero":false},"axis":null}}}
 ],
 "resolve":{"axis":{"x":"independent","y":"independent"}}},
{"width":346,"height":177,"data":{"name":"lisboa"},
 "layer":[
  {"data":{"values":[{}]},"mark":{"type":"rule","color":"#999","strokeWidth":1,"strokeDash":[2,2]},"encoding":{"x":{"datum":1852,"type":"quantitative","scale":{"domain":[1850,2010],"nice":false,"zero":false},"axis":null},"x2":{"datum":1916},"y":{"datum":22,"type":"quantitative","scale":{"domain":[18,23],"nice":false,"zero":false},"axis":null}}},
  {"data":{"values":[{}]},"mark":{"type":"rule","color":"#ddd","strokeWidth":1,"strokeDash":[1,2]},"encoding":{"y":{"datum":18,"type":"quantitative","scale":{"domain":[18,23],"nice":false,"zero":false},"axis":null}}},
  {"data":{"values":[{}]},"mark":{"type":"rule","color":"#ddd","strokeWidth":1,"strokeDash":[1,2]},"encoding":{"x":{"datum":1930,"type":"quantitative","scale":{"domain":[1850,2010],"nice":false,"zero":false},"axis":null}}},
  {"mark":{"type":"line","color":"#444","strokeWidth":1.2,"strokeDash":[2,1.5],"invalid":"break-paths-show-domains","clip":true},
   "encoding":{"x":{"field":"yr","type":"quantitative","scale":{"domain":[1850,2010],"nice":false,"zero":false},"axis":{"orient":"bottom","values":[1850,1890,1930,1970,2010],"format":"d","domain":false,"tickSize":-4,"labelPadding":9,"title":null}},
   "y":{"field":"tmaxR","type":"quantitative","scale":{"domain":[18,23],"nice":false,"zero":false},"axis":{"orient":"left","values":[18,20,22],"format":"d","tickSize":-4,"labelPadding":8,"title":null}}}},
  {"mark":{"type":"line","color":"black","strokeWidth":1.3,"invalid":"break-paths-show-domains","clip":true},
   "encoding":{"x":{"field":"yr","type":"quantitative","scale":{"domain":[1850,2010],"nice":false,"zero":false},"axis":{"orient":"top","values":[1850,1890,1930,1970,2010],"labels":false,"tickSize":-4,"tickColor":"#555","domainColor":"#222","title":null}},
   "y":{"field":"tmax","type":"quantitative","scale":{"domain":[18,23],"nice":false,"zero":false},"axis":{"orient":"right","values":[18,20,22],"labels":false,"domain":false,"tickSize":3,"tickColor":"#666","title":null}}}},
  {"data":{"values":[{}]},"mark":{"type":"text","text":"tmax","align":"right","baseline":"alphabetic","dx":-4,"dy":-5,"fontSize":18.5},"encoding":{"x":{"datum":2010,"type":"quantitative","scale":{"domain":[1850,2010],"nice":false,"zero":false},"axis":null},"y":{"datum":18,"type":"quantitative","scale":{"domain":[18,23],"nice":false,"zero":false},"axis":null}}}
 ],
 "resolve":{"axis":{"x":"independent","y":"independent"}}},
{"width":346,"height":177,"data":{"name":"porto"},
 "layer":[
  {"data":{"values":[{}]},"mark":{"type":"rule","color":"#ccc","strokeWidth":1,"strokeDash":[1,2]},"encoding":{"x":{"datum":1930,"type":"quantitative","scale":{"domain":[1850,2010],"nice":false,"zero":false},"axis":null}}},
  {"data":{"values":[{}]},"mark":{"type":"rule","color":"#ddd","strokeWidth":1,"strokeDash":[1,2]},"encoding":{"y":{"datum":17,"type":"quantitative","scale":{"domain":[17,21],"nice":false,"zero":false},"axis":null}}},
  {"mark":{"type":"line","color":"#444","strokeWidth":1.2,"strokeDash":[2,1.5],"invalid":"break-paths-show-domains","clip":true},
   "encoding":{"x":{"field":"yr","type":"quantitative","scale":{"domain":[1850,2010],"nice":false,"zero":false},"axis":{"orient":"bottom","values":[1850,1890,1930,1970,2010],"format":"d","domain":false,"tickSize":-4,"labelPadding":9,"title":null}},
   "y":{"field":"tmaxR","type":"quantitative","scale":{"domain":[17,21],"nice":false,"zero":false},"axis":{"orient":"left","values":[17,19,21],"format":"d","tickSize":-4,"labelPadding":8,"title":null}}}},
  {"mark":{"type":"line","color":"black","strokeWidth":1.3,"invalid":"break-paths-show-domains","clip":true},
   "encoding":{"x":{"field":"yr","type":"quantitative","scale":{"domain":[1850,2010],"nice":false,"zero":false},"axis":{"orient":"top","values":[1850,1890,1930,1970,2010],"labels":false,"tickSize":-4,"tickColor":"#555","domainColor":"#222","title":null}},
   "y":{"field":"tmax","type":"quantitative","scale":{"domain":[17,21],"nice":false,"zero":false},"axis":{"orient":"right","values":[17,19,21],"labels":false,"domain":false,"tickSize":3,"tickColor":"#666","title":null}}}},
  {"data":{"values":[{}]},"mark":{"type":"text","text":"tmax","align":"right","baseline":"alphabetic","dx":-4,"dy":-5,"fontSize":18.5},"encoding":{"x":{"datum":2010,"type":"quantitative","scale":{"domain":[1850,2010],"nice":false,"zero":false},"axis":null},"y":{"datum":17,"type":"quantitative","scale":{"domain":[17,21],"nice":false,"zero":false},"axis":null}}}
 ],
 "resolve":{"axis":{"x":"independent","y":"independent"}}},
{"width":346,"height":177,"data":{"name":"coimbra"},
 "layer":[
  {"data":{"values":[{}]},"mark":{"type":"rule","color":"#888","strokeWidth":1,"strokeDash":[6,3,1,3]},"encoding":{"y":{"datum":1001,"type":"quantitative","scale":{"domain":[997,1004],"nice":false,"zero":false},"axis":null}}},
  {"mark":{"type":"line","color":"#444","strokeWidth":1.2,"strokeDash":[2,1.5],"invalid":"break-paths-show-domains","clip":true},
   "encoding":{"x":{"field":"yr","type":"quantitative","scale":{"domain":[1850,2010],"nice":false,"zero":false},"axis":{"orient":"bottom","values":[1850,1890,1930,1970,2010],"format":"d","domain":false,"tickSize":-4,"labelPadding":9,"title":null}},
   "y":{"field":"presR","type":"quantitative","scale":{"domain":[997,1004],"nice":false,"zero":false},"axis":{"orient":"left","values":[997,999,1001,1003],"format":"d","tickSize":-4,"labelPadding":8,"title":"Pressure [hPa]","titlePadding":6}}}},
  {"mark":{"type":"line","color":"black","strokeWidth":1.3,"invalid":"break-paths-show-domains","clip":true},
   "encoding":{"x":{"field":"yr","type":"quantitative","scale":{"domain":[1850,2010],"nice":false,"zero":false},"axis":{"orient":"top","values":[1850,1890,1930,1970,2010],"labels":false,"tickSize":-4,"tickColor":"#555","domainColor":"#222","title":null}},
   "y":{"field":"pres","type":"quantitative","scale":{"domain":[997,1004],"nice":false,"zero":false},"axis":{"orient":"right","values":[997,999,1001,1003],"labels":false,"domain":false,"tickSize":3,"tickColor":"#666","title":null}}}},
  {"data":{"values":[{}]},"mark":{"type":"text","text":"press","align":"right","baseline":"alphabetic","dx":-4,"dy":-5,"fontSize":18.5},"encoding":{"x":{"datum":2010,"type":"quantitative","scale":{"domain":[1850,2010],"nice":false,"zero":false},"axis":null},"y":{"datum":997,"type":"quantitative","scale":{"domain":[997,1004],"nice":false,"zero":false},"axis":null}}}
 ],
 "resolve":{"axis":{"x":"independent","y":"independent"}}},
{"width":346,"height":177,"data":{"name":"lisboa"},
 "layer":[
  {"data":{"values":[{}]},"mark":{"type":"rule","color":"#999","strokeWidth":1,"strokeDash":[2,2]},"encoding":{"y":{"datum":1010,"type":"quantitative","scale":{"domain":[1000,1011],"nice":false,"zero":false},"axis":null}}},
  {"data":{"values":[{}]},"mark":{"type":"rule","color":"#999","strokeWidth":1,"strokeDash":[2,2]},"encoding":{"y":{"datum":1006,"type":"quantitative","scale":{"domain":[1000,1011],"nice":false,"zero":false},"axis":null}}},
  {"mark":{"type":"line","color":"#444","strokeWidth":1.2,"strokeDash":[2,1.5],"invalid":"break-paths-show-domains","clip":true},
   "encoding":{"x":{"field":"yr","type":"quantitative","scale":{"domain":[1850,2010],"nice":false,"zero":false},"axis":{"orient":"bottom","values":[1850,1890,1930,1970,2010],"format":"d","domain":false,"tickSize":-4,"labelPadding":9,"title":"Year","titleFontSize":18,"titlePadding":2}},
   "y":{"field":"presR","type":"quantitative","scale":{"domain":[1000,1011],"nice":false,"zero":false},"axis":{"orient":"left","values":[1000,1002,1004,1006,1008,1010],"format":"d","tickSize":-4,"labelPadding":8,"title":null}}}},
  {"mark":{"type":"line","color":"black","strokeWidth":1.3,"invalid":"break-paths-show-domains","clip":true},
   "encoding":{"x":{"field":"yr","type":"quantitative","scale":{"domain":[1850,2010],"nice":false,"zero":false},"axis":{"orient":"top","values":[1850,1890,1930,1970,2010],"labels":false,"tickSize":-4,"tickColor":"#555","domainColor":"#222","title":null}},
   "y":{"field":"pres","type":"quantitative","scale":{"domain":[1000,1011],"nice":false,"zero":false},"axis":{"orient":"right","values":[1000,1002,1004,1006,1008,1010],"labels":false,"domain":false,"tickSize":3,"tickColor":"#666","title":null}}}},
  {"data":{"values":[{}]},"mark":{"type":"text","text":"press","align":"right","baseline":"alphabetic","dx":-4,"dy":-5,"fontSize":18.5},"encoding":{"x":{"datum":2010,"type":"quantitative","scale":{"domain":[1850,2010],"nice":false,"zero":false},"axis":null},"y":{"datum":1000,"type":"quantitative","scale":{"domain":[1000,1011],"nice":false,"zero":false},"axis":null}}}
 ],
 "resolve":{"axis":{"x":"independent","y":"independent"}}},
{"width":346,"height":177,"data":{"name":"porto"},
 "layer":[
  {"data":{"values":[{}]},"mark":{"type":"rule","color":"#ccc","strokeWidth":1,"strokeDash":[1,2]},"encoding":{"x":{"datum":1930,"type":"quantitative","scale":{"domain":[1850,2010],"nice":false,"zero":false},"axis":null}}},
  {"mark":{"type":"line","color":"#444","strokeWidth":1.2,"strokeDash":[2,1.5],"invalid":"break-paths-show-domains","clip":true},
   "encoding":{"x":{"field":"yr","type":"quantitative","scale":{"domain":[1850,2010],"nice":false,"zero":false},"axis":{"orient":"bottom","values":[1850,1890,1930,1970,2010],"format":"d","domain":false,"tickSize":-4,"labelPadding":9,"title":null}},
   "y":{"field":"presR","type":"quantitative","scale":{"domain":[1001,1010],"nice":false,"zero":false},"axis":{"orient":"left","values":[1001,1003,1005,1007,1009],"format":"d","tickSize":-4,"labelPadding":8,"title":null}}}},
  {"mark":{"type":"line","color":"black","strokeWidth":1.3,"invalid":"break-paths-show-domains","clip":true},
   "encoding":{"x":{"field":"yr","type":"quantitative","scale":{"domain":[1850,2010],"nice":false,"zero":false},"axis":{"orient":"top","values":[1850,1890,1930,1970,2010],"labels":false,"tickSize":-4,"tickColor":"#555","domainColor":"#222","title":null}},
   "y":{"field":"pres","type":"quantitative","scale":{"domain":[1001,1010],"nice":false,"zero":false},"axis":{"orient":"right","values":[1001,1003,1005,1007,1009],"labels":false,"domain":false,"tickSize":3,"tickColor":"#666","title":null}}}},
  {"data":{"values":[{}]},"mark":{"type":"text","text":"press","align":"right","baseline":"alphabetic","dx":-4,"dy":-5,"fontSize":18.5},"encoding":{"x":{"datum":2010,"type":"quantitative","scale":{"domain":[1850,2010],"nice":false,"zero":false},"axis":null},"y":{"datum":1001,"type":"quantitative","scale":{"domain":[1001,1010],"nice":false,"zero":false},"axis":null}}}
 ],
 "resolve":{"axis":{"x":"independent","y":"independent"}}}
],
"config":{
 "font":"Liberation Sans",
 "view":{"stroke":null},
 "axis":{"labelFont":"Liberation Sans","labelFontSize":16,"labelColor":"black","titleFont":"Liberation Sans","titleFontSize":20,"titleFontWeight":"normal","titleColor":"black","grid":false,"labelFlush":false,"labelOverlap":false,"tickColor":"black","domainColor":"black","domainWidth":1,"tickWidth":1},
 "title":{"font":"Liberation Sans","fontSize":22,"fontWeight":"normal","color":"black"},
 "text":{"font":"Liberation Sans","color":"black"}
}
}
